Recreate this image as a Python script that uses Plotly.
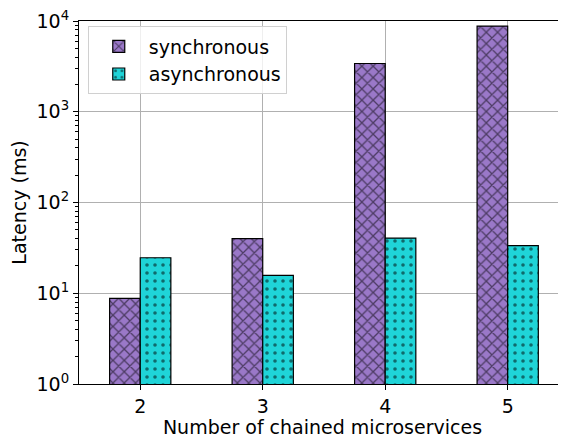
import plotly.graph_objects as go

categories = [2, 3, 4, 5]
sync_ms = [8.8, 40, 3400, 8800]
async_ms = [24.6, 15.7, 40.5, 33.5]
tick_vals = [1, 10, 100, 1000, 10000]
tick_text = ["10<sup>0</sup>", "10<sup>1</sup>", "10<sup>2</sup>", "10<sup>3</sup>", "10<sup>4</sup>"]
minor_vals = [m * d for d in [1, 10, 100, 1000] for m in range(2, 10)]

FONT = "DejaVu Sans"
FS = 19

fig = go.Figure()
fig.add_trace(go.Bar(
    x=categories, y=sync_ms, name="synchronous",
    marker=dict(color="#9a78c8", line=dict(color="black", width=1.2),
                pattern=dict(shape="x", fgcolor="black", size=8, solidity=0.3)),
))
fig.add_trace(go.Bar(
    x=categories, y=async_ms, name="asynchronous",
    marker=dict(color="#1fd4d8", line=dict(color="black", width=1.2),
                pattern=dict(shape=".", fgcolor="black", size=8, solidity=0.16)),
))

fig.update_layout(
    width=558, height=430,
    margin=dict(l=71, r=0, t=10, b=54),
    paper_bgcolor="white", plot_bgcolor="white",
    barmode="group", bargap=0.5, bargroupgap=0,
    font=dict(family=FONT, size=FS, color="black"),
    legend=dict(x=0.018, y=0.985, xanchor="left", yanchor="top",
                bgcolor="rgba(255,255,255,0.8)", bordercolor="#d0d0d0", borderwidth=1,
                font=dict(family=FONT, size=FS), itemwidth=50, tracegroupgap=0),
    showlegend=True,
)
fig.update_xaxes(
    range=[1.5, 5.476], tickvals=categories, ticktext=[str(c) for c in categories],
    showgrid=True, gridcolor="#b0b0b0", gridwidth=1,
    showline=True, linecolor="black", linewidth=1, mirror=True,
    ticks="outside", ticklen=5, tickcolor="black",
    tickfont=dict(size=FS),
    title=dict(text="Number of chained microservices", font=dict(size=FS), standoff=2),
    zeroline=False,
)
fig.update_yaxes(
    type="log", range=[0, 4], tickvals=tick_vals, ticktext=tick_text,
    showgrid=True, gridcolor="#b0b0b0", gridwidth=1,
    showline=True, linecolor="black", linewidth=1, mirror=False,
    ticks="outside", ticklen=5, tickcolor="black",
    minor=dict(tickmode="array", tickvals=minor_vals, ticks="outside", ticklen=3,
               tickcolor="black", showgrid=False),
    tickfont=dict(size=FS), ticklabeloverflow="allow",
    title=dict(text="Latency (ms)", font=dict(size=FS), standoff=4),
)

fig.write_html("out.html")
